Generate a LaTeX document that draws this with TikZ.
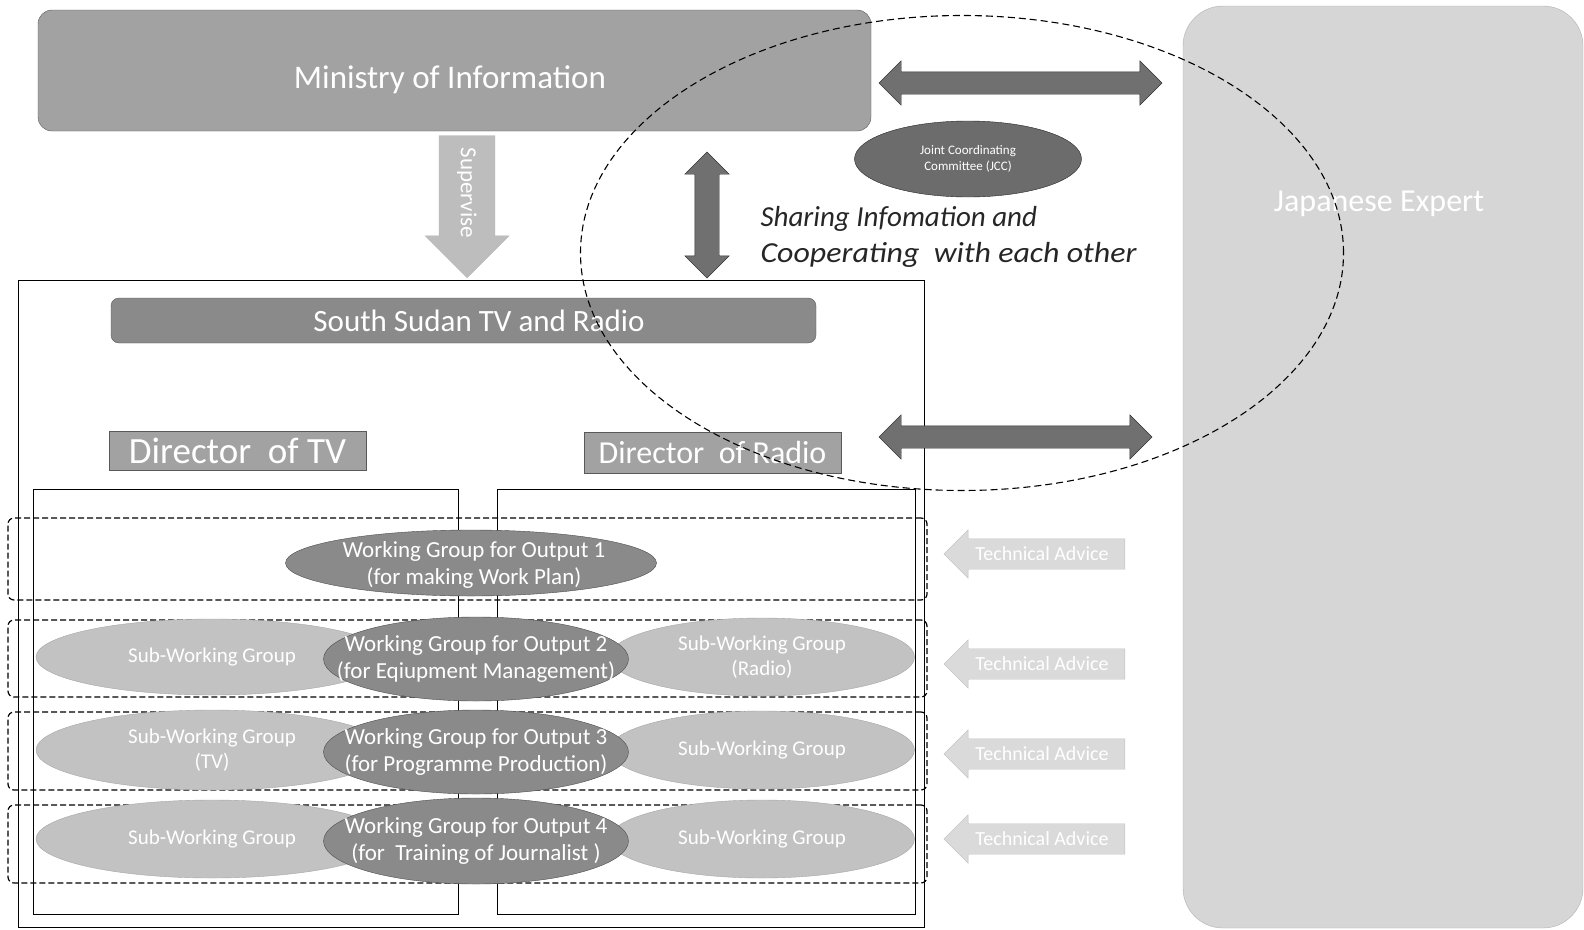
\documentclass[tikz,border=0pt]{standalone}
\usepackage{fontspec}
\setmainfont{Carlito}
\usetikzlibrary{shapes.geometric,shapes.arrows}
\definecolor{boxgray}{HTML}{A2A2A2}
\definecolor{darkgray2}{HTML}{8A8A8A}
\definecolor{jccgray}{HTML}{6C6C6C}
\definecolor{arrgray}{HTML}{707070}
\definecolor{subgray}{HTML}{C2C2C2}
\definecolor{expgray}{HTML}{D6D6D6}
\definecolor{advgray}{HTML}{DADADA}
\definecolor{supgray}{HTML}{BDBDBD}
\tikzset{
  graybox/.style={draw=gray!70!black, fill=boxgray, text=white, inner sep=0pt},
  wgell/.style={ellipse, draw=gray!60!black, fill=darkgray2, inner sep=0pt},
  subell/.style={ellipse, draw=gray!70, fill=subgray, inner sep=0pt},
  wgtxt/.style={text=white, font=\fontsize{23}{27}\selectfont, align=center},
  subtxt/.style={text=white, font=\fontsize{21}{25}\selectfont, align=center},
  dblarr/.style={double arrow, draw=gray!40!black, fill=arrgray, inner xsep=0pt, inner ysep=11pt, double arrow head extend=11pt},
  advarr/.style={single arrow, shape border rotate=180, draw=gray!50, fill=advgray, text=white, font=\fontsize{20}{22}\selectfont, inner ysep=8pt, inner xsep=4pt, single arrow head extend=9pt, minimum height=181pt},
  band/.style={draw, line width=1.2pt, dash pattern=on 6pt off 3pt, rounded corners=6pt},
}
\begin{document}
\begin{tikzpicture}[x=1pt,y=-1pt]
\useasboundingbox (0,0) rectangle (1584,929);
% Japanese expert
\node[draw=gray!60, fill=expgray, rounded corners=40pt, minimum width=400pt, minimum height=922pt] (exp) at (1383,467) {};
\node[text=white, font=\fontsize{32}{36}\selectfont] (exptxt) at (1379,204) {Japanese Expert};
% outer frame
\node[draw, thin, minimum width=906pt, minimum height=647pt, inner sep=0pt] (frame) at (471,604) {};
% inner columns
\node[draw, thin, minimum width=425pt, minimum height=425pt, inner sep=0pt] (coltv) at (245.5,701.5) {};
\node[draw, thin, minimum width=418pt, minimum height=425pt, inner sep=0pt] (colradio) at (706,701.5) {};
% Ministry
\node[graybox, rounded corners=14pt, minimum width=833pt, minimum height=121pt] (min) at (454.5,70.5) {};
\node[text=white, font=\fontsize{33}{38}\selectfont] (mint) at (450,80) {Ministry of Information};
% South Sudan TV
\node[graybox, fill=darkgray2, rounded corners=8pt, minimum width=705pt, minimum height=45pt] (sstv) at (463.5,320.5) {};
\node[text=white, font=\fontsize{31}{36}\selectfont] (sstvt) at (479,321) {South Sudan TV and Radio};
% Directors
\node[graybox, minimum width=257pt, minimum height=39pt, font=\fontsize{37}{40}\selectfont] (dtv) at (237.5,450.5) {Director\ \ of TV};
\node[graybox, minimum width=257pt, minimum height=41pt, font=\fontsize{32}{36}\selectfont] (dradio) at (712.5,452.5) {Director\ \ of Radio};
% Supervise arrow
\node[single arrow, rotate=-90, anchor=tip, draw=gray!60, fill=supgray, text=white, font=\fontsize{23}{26}\selectfont, inner ysep=18pt, inner xsep=6pt, single arrow head extend=14pt, minimum height=142pt] (sup) at (467,278) {Supervise};
% vertical double arrow
\node[dblarr, rotate=90, inner ysep=12pt, double arrow head extend=10pt, minimum height=126pt] (varr) at (707,215) {};
% top and lower horizontal double arrows
\node[dblarr, minimum height=283pt] (harr1) at (1020.5,83) {};
\node[dblarr, minimum height=273pt] (harr2) at (1015.5,437) {};
% JCC
\node[ellipse, draw=gray!30!black, fill=jccgray, text=white, font=\fontsize{13}{16}\selectfont, align=center, minimum width=227pt, minimum height=76pt, inner sep=0pt] (jcc) at (968,159) {Joint Coordinating\\Committee (JCC)};
% sharing text
\node[anchor=west, font=\fontsize{29}{36}\selectfont\itshape, align=left, text=black!85] (share) at (757,237) {Sharing Infomation and\\\scalebox{1.1}[1]{Cooperating\ \ with each other}};
% dashed big ellipse
\node[ellipse, draw, line width=1.1pt, dash pattern=on 7pt off 4pt, minimum width=763pt, minimum height=475pt, inner sep=0pt] (coop) at (962,253) {};
% bands
\node[band, minimum width=919pt, minimum height=82pt] (b1) at (467.5,559) {};
\node[band, minimum width=919pt, minimum height=77pt] (b2) at (467.5,658.5) {};
\node[band, minimum width=919pt, minimum height=78pt] (b3) at (467.5,751) {};
\node[band, minimum width=919pt, minimum height=78pt] (b4) at (467.5,844) {};
% row 1
\node[wgell, minimum width=371pt, minimum height=66pt] (wg1) at (471,563) {};
\node[wgtxt] (wg1t) at (474,565) {Working Group for Output 1\\(for making Work Plan)};
% row 2
\node[subell, minimum width=352pt, minimum height=76pt] (s2l) at (212,657) {};
\node[subtxt] (s2lt) at (s2l) {Sub-Working Group};
\node[subell, minimum width=305pt, minimum height=78pt] (s2r) at (762,657) {};
\node[subtxt] (s2rt) at (s2r) {Sub-Working Group\\(Radio)};
\node[wgell, minimum width=305pt, minimum height=84pt] (wg2) at (476,659) {};
\node[wgtxt] (wg2t) at (wg2) {Working Group for Output 2\\(for Eqiupment Management)};
% row 3
\node[subell, minimum width=352pt, minimum height=80pt] (s3l) at (212,750) {};
\node[subtxt] (s3lt) at (s3l) {Sub-Working Group\\(TV)};
\node[subell, minimum width=305pt, minimum height=78pt] (s3r) at (762,750) {};
\node[subtxt] (s3rt) at (s3r) {Sub-Working Group};
\node[wgell, minimum width=305pt, minimum height=84pt] (wg3) at (476,752) {};
\node[wgtxt] (wg3t) at (wg3) {Working Group for Output 3\\(for Programme Production)};
% row 4
\node[subell, minimum width=352pt, minimum height=78pt] (s4l) at (212,839) {};
\node[subtxt] (s4lt) at (s4l) {Sub-Working Group};
\node[subell, minimum width=305pt, minimum height=78pt] (s4r) at (762,839) {};
\node[subtxt] (s4rt) at (s4r) {Sub-Working Group};
\node[wgell, minimum width=305pt, minimum height=86pt] (wg4) at (476,841) {};
\node[wgtxt] (wg4t) at (wg4) {Working Group for Output 4\\(for\ \ Training of Journalist )};
% technical advice arrows
\node[advarr] (ta1) at (1042,554) {Technical Advice};
\node[advarr] (ta2) at (1042,664) {Technical Advice};
\node[advarr] (ta3) at (1042,754) {Technical Advice};
\node[advarr] (ta4) at (1042,839) {Technical Advice};
\end{tikzpicture}
\end{document}
